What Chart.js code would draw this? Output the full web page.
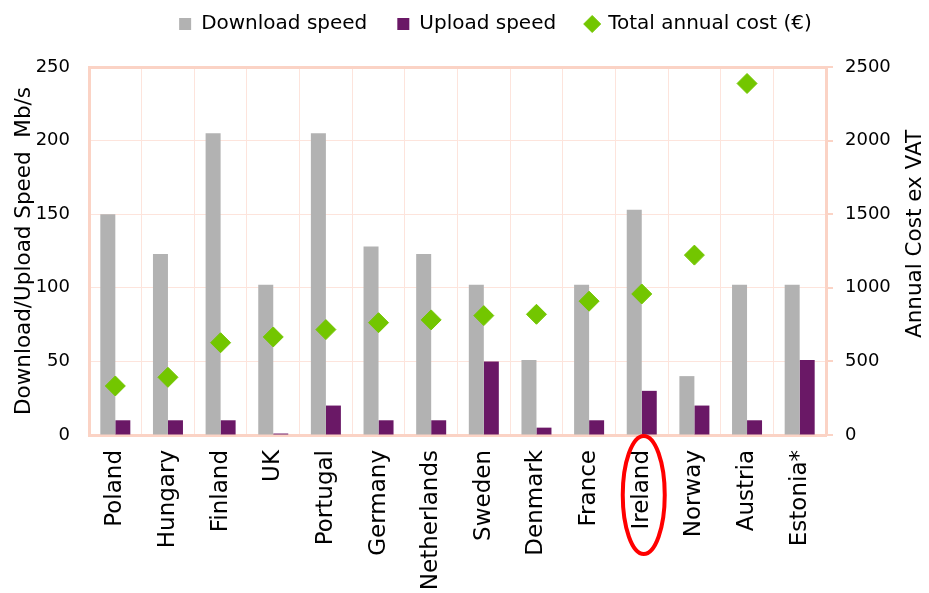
<!DOCTYPE html>
<html>
<head>
<meta charset="utf-8">
<script src="https://cdn.jsdelivr.net/npm/chart.js@4.4.1/dist/chart.umd.min.js"></script>
<style>
html,body{margin:0;padding:0;background:#ffffff;}
#c{display:block;}
</style>
</head>
<body>
<canvas id="c" width="929" height="593"></canvas>
<script>
const categories = ['Poland','Hungary','Finland','UK','Portugal','Germany','Netherlands','Sweden','Denmark','France','Ireland','Norway','Austria','Estonia*'];
const downloadSpeed = [150,123,205,102,205,128,123,102,51,102,153,40,102,102];
const uploadSpeed = [10,10,10,1,20,10,10,50,5,10,30,20,10,51];
const annualCost = [333,392,627,666,716,763,782,811,820,909,958,1222,2388,null];
const seriesNames = ['Download speed','Upload speed','Total annual cost (\u20AC)'];
const leftAxisTitle = 'Download/Upload Speed  Mb/s';
const rightAxisTitle = 'Annual Cost ex VAT';
const highlighted = 'Ireland';

const FONT = 'DejaVu Sans';
const GRID = '#FDE4DC';
const FRAME = '#FBD3C5';

Chart.defaults.font.family = FONT;
Chart.defaults.color = '#000000';

const legendFix = {
  id: 'legendFix',
  beforeUpdate(chart) {
    const lg = chart.legend;
    if (lg && !lg._fixed) {
      const fit = lg.fit.bind(lg);
      lg.fit = function () { fit(); this.height = 67; };
      lg._fixed = true;
    }
  },
  afterLayout(chart) {
    const lg = chart.legend;
    lg.left += 31; lg.right += 31;
    lg.top = -16; lg.bottom = lg.top + lg.height + 16;
  }
};

// right-hand axis title, reading bottom-to-top like the reference
const rightTitlePlugin = {
  id: 'rightTitle',
  afterDraw(chart) {
    const s = chart.scales.y1;
    const ctx = chart.ctx;
    ctx.save();
    ctx.translate(s.right - 14, (chart.chartArea.top + chart.chartArea.bottom) / 2 - 17);
    ctx.rotate(-Math.PI / 2);
    ctx.font = '21.5px "' + FONT + '"';
    ctx.fillStyle = '#000000';
    ctx.textAlign = 'center';
    ctx.textBaseline = 'middle';
    ctx.fillText(rightAxisTitle, 0, 0);
    ctx.restore();
  }
};

const highlightPlugin = {
  id: 'highlight',
  afterDraw(chart) {
    const xs = chart.scales.x;
    const idx = categories.indexOf(highlighted);
    const cx = xs.getPixelForValue(idx) + 2;
    const cy = chart.chartArea.bottom + 60;
    const ctx = chart.ctx;
    ctx.save();
    ctx.beginPath();
    ctx.ellipse(cx, cy, 21, 59, 0, 0, Math.PI * 2);
    ctx.lineWidth = 4;
    ctx.strokeStyle = '#FF0000';
    ctx.stroke();
    ctx.restore();
  }
};

new Chart(document.getElementById('c'), {
  data: {
    labels: categories,
    datasets: [
      { type: 'bar', label: seriesNames[0], data: downloadSpeed, backgroundColor: '#B2B2B2', borderWidth: 0, yAxisID: 'y', pointStyle: 'rect', order: 1 },
      { type: 'bar', label: seriesNames[1], data: uploadSpeed, backgroundColor: '#6A1866', borderWidth: 0, yAxisID: 'y', pointStyle: 'rect', order: 1 },
      { type: 'line', label: seriesNames[2], data: annualCost, yAxisID: 'y1', showLine: false, pointStyle: 'rectRot', pointRadius: 10, pointHoverRadius: 10, backgroundColor: '#73C600', borderColor: '#73C600', borderWidth: 1, order: 0 }
    ]
  },
  options: {
    responsive: false,
    animation: false,
    layout: { padding: 0 },
    datasets: { bar: { categoryPercentage: 0.57, barPercentage: 1.0 } },
    plugins: {
      tooltip: { enabled: false },
      legend: {
        position: 'top',
        labels: {
          usePointStyle: true,
          boxWidth: 12, boxHeight: 12,
          padding: 30,
          font: { family: FONT, size: 20 },
          color: '#000000',
          sort: (a, b) => a.datasetIndex - b.datasetIndex
        }
      }
    },
    scales: {
      x: {
        offset: true,
        grid: { color: GRID, lineWidth: 1, offset: true, drawTicks: false },
        border: { display: true, color: FRAME, width: 3 },
        ticks: { autoSkip: false, maxRotation: 90, minRotation: 90, padding: 15, font: { family: FONT, size: 23 }, color: '#000000' },
        afterFit(s) { s.height = 158; }
      },
      y: {
        position: 'left', min: 0, max: 250,
        ticks: { stepSize: 50, padding: 19, font: { family: FONT, size: 18 }, color: '#000000', callback: v => String(v) },
        grid: { color: c => (c.tick && c.tick.value === 250 ? FRAME : GRID), lineWidth: c => (c.tick && c.tick.value === 250 ? 3 : 1), drawTicks: false },
        border: { display: true, color: FRAME, width: 3 },
        title: { display: true, text: leftAxisTitle, font: { family: FONT, size: 21.5 }, color: '#000000', padding: { top: 12, bottom: 0 } },
        afterFit(s) { s.width = 89; }
      },
      y1: {
        position: 'right', min: 0, max: 2500,
        ticks: { stepSize: 500, padding: 12, font: { family: FONT, size: 18 }, color: '#000000', callback: v => String(v) },
        grid: { drawOnChartArea: false, color: FRAME, tickLength: 7, lineWidth: 2 },
        border: { display: true, color: FRAME, width: 3 },
        title: { display: false },
        afterFit(s) { s.width = 103; }
      }
    }
  },
  plugins: [legendFix, rightTitlePlugin, highlightPlugin]
});
</script>
</body>
</html>
